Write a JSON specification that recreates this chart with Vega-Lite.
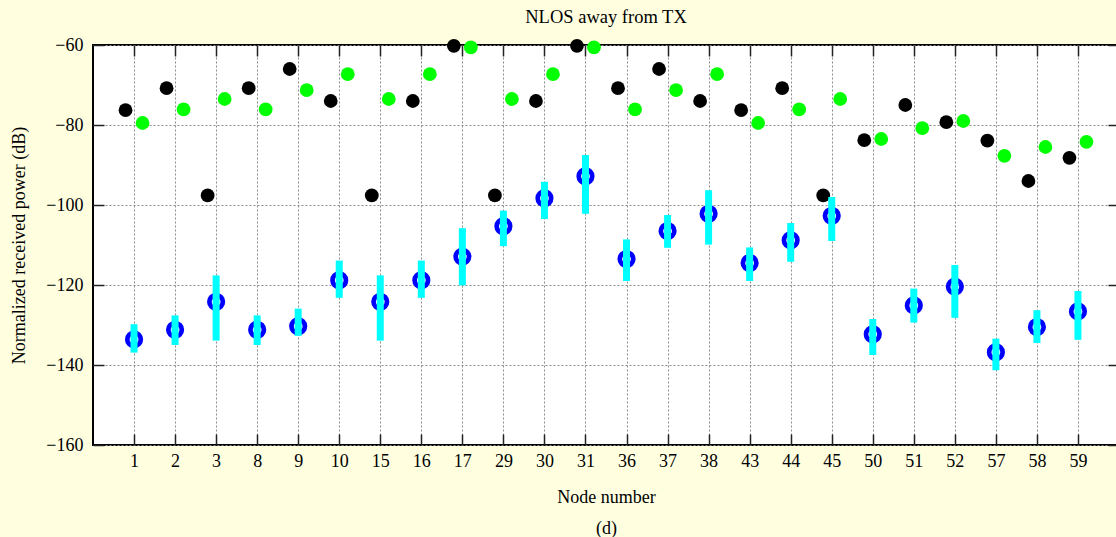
{
  "$schema": "https://vega.github.io/schema/vega-lite/v6.json",
  "width": 1026,
  "height": 400,
  "autosize": {"type": "none"},
  "padding": {"left": 93, "top": 45, "right": 0, "bottom": 92},
  "background": "#ffffe0",
  "view": {"fill": "white", "stroke": "black", "strokeWidth": 2},
  "title": {
    "text": "NLOS away from TX",
    "font": "Liberation Serif",
    "fontSize": 18.5,
    "fontWeight": "normal",
    "color": "black",
    "offset": 10
  },
  "config": {
    "font": "Liberation Serif",
    "axis": {
      "labelFont": "Liberation Serif",
      "labelFontSize": 18,
      "labelColor": "black",
      "titleFont": "Liberation Serif",
      "titleFontSize": 18,
      "titleFontWeight": "normal",
      "titleColor": "black",
      "domain": false,
      "tickColor": "#222",
      "tickWidth": 1.5,
      "gridColor": "#8a8a8a",
      "gridDash": [2, 2],
      "gridWidth": 1
    }
  },
  "data": {
    "values": [
      {"node": "1", "black": -76.3, "green": -79.5, "mean": -133.6, "lo": -136.9, "hi": -129.8},
      {"node": "2", "black": -70.8, "green": -76.1, "mean": -131.2, "lo": -135.0, "hi": -127.6},
      {"node": "3", "black": -97.6, "green": -73.5, "mean": -124.2, "lo": -133.9, "hi": -117.6},
      {"node": "8", "black": -70.8, "green": -76.1, "mean": -131.2, "lo": -135.0, "hi": -127.6},
      {"node": "9", "black": -66.0, "green": -71.3, "mean": -130.3, "lo": -132.7, "hi": -125.9},
      {"node": "10", "black": -74.0, "green": -67.3, "mean": -118.8, "lo": -123.2, "hi": -113.9},
      {"node": "15", "black": -97.6, "green": -73.5, "mean": -124.2, "lo": -133.9, "hi": -117.6},
      {"node": "16", "black": -74.0, "green": -67.3, "mean": -118.8, "lo": -123.2, "hi": -113.9},
      {"node": "17", "black": -60.2, "green": -60.6, "mean": -112.9, "lo": -120.1, "hi": -105.8},
      {"node": "29", "black": -97.6, "green": -73.5, "mean": -105.3, "lo": -110.3, "hi": -101.4},
      {"node": "30", "black": -74.0, "green": -67.3, "mean": -98.3, "lo": -103.5, "hi": -94.2},
      {"node": "31", "black": -60.2, "green": -60.6, "mean": -92.8, "lo": -102.2, "hi": -87.5},
      {"node": "36", "black": -70.8, "green": -76.1, "mean": -113.5, "lo": -119.0, "hi": -108.6},
      {"node": "37", "black": -66.0, "green": -71.3, "mean": -106.5, "lo": -110.7, "hi": -102.5},
      {"node": "38", "black": -74.0, "green": -67.3, "mean": -102.2, "lo": -109.9, "hi": -96.3},
      {"node": "43", "black": -76.3, "green": -79.5, "mean": -114.5, "lo": -119.0, "hi": -110.6},
      {"node": "44", "black": -70.8, "green": -76.1, "mean": -108.8, "lo": -114.2, "hi": -104.5},
      {"node": "45", "black": -97.6, "green": -73.5, "mean": -102.7, "lo": -109.0, "hi": -98.0},
      {"node": "50", "black": -83.8, "green": -83.5, "mean": -132.3, "lo": -137.5, "hi": -128.5},
      {"node": "51", "black": -75.0, "green": -80.8, "mean": -125.1, "lo": -129.4, "hi": -120.9},
      {"node": "52", "black": -79.3, "green": -79.0, "mean": -120.4, "lo": -128.2, "hi": -115.0},
      {"node": "57", "black": -83.9, "green": -87.7, "mean": -136.8, "lo": -141.3, "hi": -133.4},
      {"node": "58", "black": -94.0, "green": -85.5, "mean": -130.5, "lo": -134.5, "hi": -126.3},
      {"node": "59", "black": -88.2, "green": -84.2, "mean": -126.6, "lo": -133.7, "hi": -121.5}
    ]
  },
  "resolve": {"axis": {"x": "independent", "y": "independent"}},
  "layer": [
    {
      "mark": {"type": "point", "filled": true, "color": "black", "opacity": 1, "size": 190, "xOffset": -8.5},
      "encoding": {
        "x": {
          "field": "node", "type": "ordinal", "sort": null,
          "scale": {"type": "point", "padding": 1},
          "axis": {
            "orient": "bottom", "title": ["Node number", "(d)"], "titleLineHeight": 31,
            "labelAngle": 0, "tickSize": -11, "labelPadding": 18, "titlePadding": 18, "grid": true
          }
        },
        "y": {
          "field": "black", "type": "quantitative",
          "scale": {"domain": [-160, -60], "nice": false, "zero": false},
          "axis": {
            "orient": "left", "title": "Normalized received power (dB)",
            "values": [-160, -140, -120, -100, -80, -60],
            "tickSize": -11, "labelPadding": 21, "titlePadding": 17, "grid": true
          }
        }
      }
    },
    {
      "mark": {"type": "point", "filled": true, "color": "#00ff00", "opacity": 1, "size": 190, "xOffset": 8.5},
      "encoding": {
        "x": {
          "field": "node", "type": "ordinal", "sort": null,
          "axis": {"orient": "top", "title": null, "labels": false, "tickSize": -11, "grid": false}
        },
        "y": {
          "field": "green", "type": "quantitative",
          "axis": {
            "orient": "right", "title": null, "labels": false,
            "values": [-160, -140, -120, -100, -80, -60], "tickSize": -11, "grid": false
          }
        }
      }
    },
    {
      "mark": {"type": "point", "filled": false, "color": "#0000ff", "opacity": 1, "size": 182, "strokeWidth": 4.7},
      "encoding": {
        "x": {"field": "node", "type": "ordinal", "sort": null, "axis": null},
        "y": {"field": "mean", "type": "quantitative", "axis": null}
      }
    },
    {
      "mark": {"type": "rule", "color": "#00ffff", "strokeWidth": 7, "strokeCap": "butt"},
      "encoding": {
        "x": {"field": "node", "type": "ordinal", "sort": null, "axis": null},
        "y": {"field": "lo", "type": "quantitative", "axis": null},
        "y2": {"field": "hi"}
      }
    }
  ]
}
